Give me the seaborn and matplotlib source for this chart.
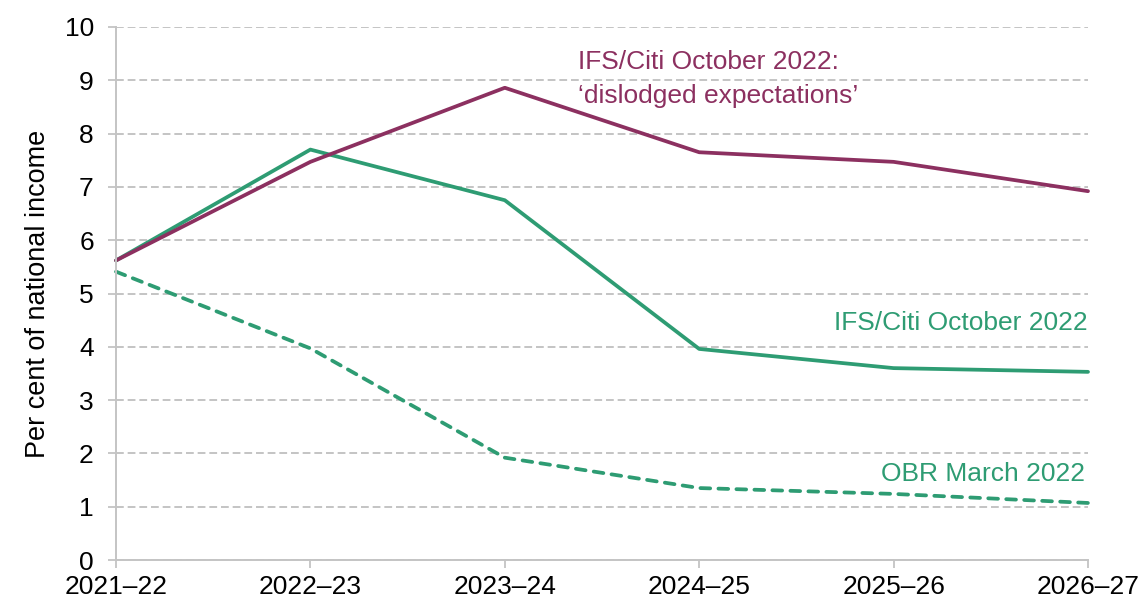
import matplotlib
matplotlib.use("Agg")
import matplotlib.pyplot as plt
import seaborn as sns
import pandas as pd

years = ["2021–22", "2022–23", "2023–24", "2024–25", "2025–26", "2026–27"]
dislodged = [5.62, 7.47, 8.86, 7.65, 7.47, 6.92]
ifs_oct = [5.62, 7.70, 6.75, 3.96, 3.60, 3.53]
obr_mar = [5.41, 3.97, 1.92, 1.35, 1.24, 1.07]
yticks = list(range(0, 11))

PURPLE = "#8C3060"
GREEN = "#2E9C73"
GRID = "#C4C4C4"

sns.set_theme(style="white")
plt.rcParams['font.family'] = ['Liberation Sans', 'DejaVu Sans']

df = pd.DataFrame({"x": list(range(len(years))),
                   "dislodged": dislodged, "ifs": ifs_oct, "obr": obr_mar})

fig = plt.figure(figsize=(11.39, 6.03), dpi=100)
ax = fig.add_axes([116/1139, 43/603, 972/1139, 533/603])

LW = 2.7
sns.lineplot(data=df, x="x", y="obr", ax=ax, color=GREEN, lw=LW)
obr_line = ax.lines[-1]
obr_line.set_dashes([2.6, 2.2])
obr_line.set_dash_capstyle("round")
sns.lineplot(data=df, x="x", y="ifs", ax=ax, color=GREEN, lw=LW)
sns.lineplot(data=df, x="x", y="dislodged", ax=ax, color=PURPLE, lw=LW)

ax.set_xlim(0, len(years) - 1)
ax.set_ylim(0, 10)
ax.set_xticks(range(len(years)))
ax.set_xticklabels(years)
ax.set_yticks(yticks)
ax.set_xlabel("")
ax.set_ylabel("Per cent of national income", fontsize=19.5, labelpad=10, color="black")

ax.yaxis.grid(True, color=GRID, linestyle=(0, (4, 2)), lw=1.4)
ax.xaxis.grid(False)
ax.set_axisbelow(True)
for s in ["top", "right"]:
    ax.spines[s].set_visible(False)
for s in ["left", "bottom"]:
    ax.spines[s].set_color(GRID)
    ax.spines[s].set_linewidth(1.4)
ax.tick_params(axis="y", length=6, width=1.3, color=GRID, labelsize=19, pad=10,
               left=True, labelcolor="black")
ax.tick_params(axis="x", length=6, width=1.3, color=GRID, labelsize=19, pad=5,
               bottom=True, labelcolor="black")

FS = 19
ax.text(2.377, 9.34, "IFS/Citi October 2022:", color=PURPLE, fontsize=FS,
        ha="left", va="center")
ax.text(2.377, 8.70, "‘dislodged expectations’", color=PURPLE, fontsize=FS,
        ha="left", va="center")
ax.text(5.0, 4.45, "IFS/Citi October 2022", color=GREEN, fontsize=FS,
        ha="right", va="center")
ax.text(4.985, 1.61, "OBR March 2022", color=GREEN, fontsize=FS,
        ha="right", va="center")

for line in ax.lines:
    line.set_clip_on(False)

fig.savefig("out.png", dpi=100)
